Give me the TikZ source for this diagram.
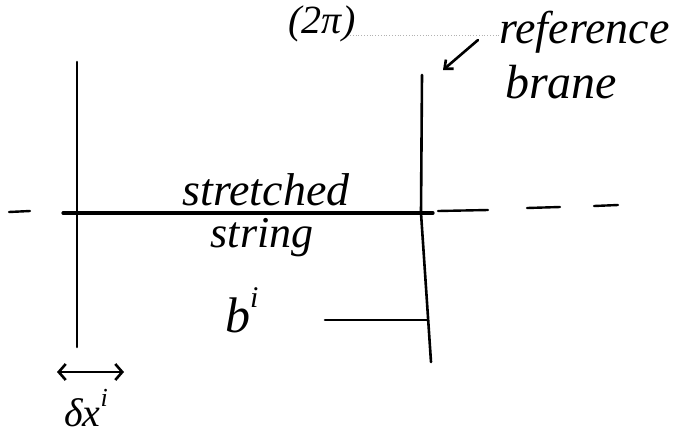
\documentclass[tikz,border=0pt]{standalone}
\usepackage{fontspec}
\setmainfont{Liberation Serif}
\usetikzlibrary{arrows.meta}
\begin{document}
\begin{tikzpicture}[x=1pt,y=-1pt,
  brane/.style={line width=2.6pt, line cap=round, line join=round},
  stringline/.style={line width=3.2pt, line cap=round},
  dashline/.style={line width=2.4pt, line cap=round},
  hand/.style={font=\itshape\fontsize{#1}{#1}\selectfont, inner sep=0pt},
  hand/.default=40]
\useasboundingbox (0,0) rectangle (683,437);
\clip (0,0) rectangle (683,437);
% top label
\node[hand=40, anchor=north, inner sep=2pt] (twopi) at (322,4) {(2π)};
% faint dotted line
\coordinate (dotA) at (350,35);
\coordinate (dotB) at (500,35);
\draw[gray!60, line width=0.8pt, dotted] (dotA) -- (dotB);
% reference brane label
\node[hand=46, anchor=base west] (ref) at (499,43) {reference};
\node[hand=48, anchor=base west] (brn) at (505,98) {brane};
% branes
\coordinate (Ltop) at (77,62);
\coordinate (Lbot) at (77,347);
\coordinate (Rtop) at (422,75);
\coordinate (Rmid) at (421,213);
\coordinate (Rbot) at (431,362);
\draw[brane] (Ltop) -- (Lbot);
\draw[brane] (Rtop) -- (Rmid) -- (Rbot);
% arrow to the reference brane
\coordinate (arrS) at (478,40);
\coordinate (arrE) at (443,70);
\draw[brane, -{Straight Barb[length=7pt,width=12pt]}] (arrS) -- (arrE);
% stretched string
\coordinate (sA) at (63,213);
\coordinate (sB) at (433,213);
\draw[stringline] (sA) -- (sB);
\coordinate (d1a) at (9,212);  \coordinate (d1b) at (30,211);
\coordinate (d2a) at (438,211); \coordinate (d2b) at (488,210);
\coordinate (d3a) at (527,208); \coordinate (d3b) at (560,207);
\coordinate (d4a) at (594,206); \coordinate (d4b) at (618,205);
\draw[dashline] (d1a) -- (d1b);
\draw[dashline] (d2a) -- (d2b);
\draw[dashline] (d3a) -- (d3b);
\draw[dashline] (d4a) -- (d4b);
\node[hand=46, anchor=base] (str1) at (266,205) {stretched};
\node[hand=44, anchor=base] (str2) at (262,247) {string};
% b^i
\node[hand=50, anchor=base west] (bi) at (225,332) {b\raisebox{0.5em}{\fontsize{30}{30}\selectfont i}};
\coordinate (bA) at (325,320);
\coordinate (bB) at (427,320);
\draw[brane] (bA) -- (bB);
% delta x^i
\coordinate (wA) at (57,372);
\coordinate (wB) at (124,372);
\draw[brane, {Straight Barb[length=7pt,width=16pt]}-{Straight Barb[length=7pt,width=16pt]}] (wA) -- (wB);
\node[hand=40, anchor=base west] (dx) at (64,426) {δx\raisebox{0.5em}{\fontsize{26}{26}\selectfont i}};
\end{tikzpicture}
\end{document}
